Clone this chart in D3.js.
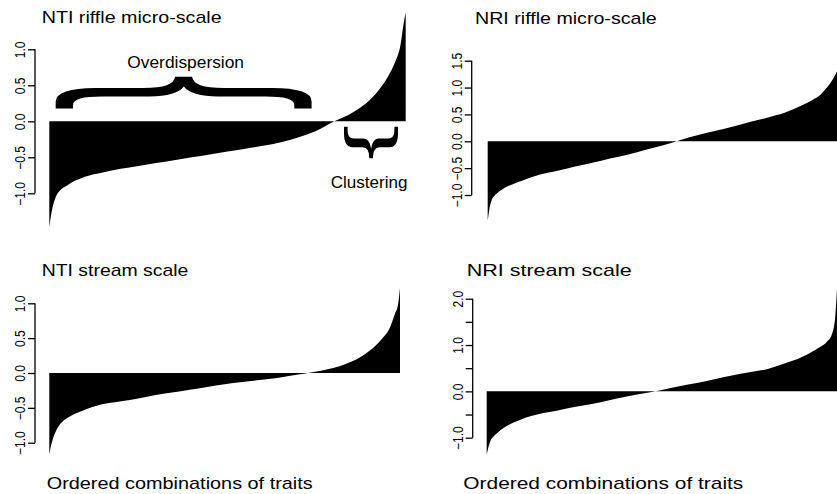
<!DOCTYPE html>
<html>
<head>
<meta charset="utf-8">
<script src="https://cdn.jsdelivr.net/npm/d3@7"></script>
<style>
  body { margin: 0; background: #fff; }
  svg text { font-family: "Liberation Sans", Arial, Helvetica, sans-serif; fill: #000; }
</style>
</head>
<body>
<div id="chart"></div>
<script>
// rank position (percent of ordered combinations) shared by all panels
const ranks = [0, 0.5, 1, 2, 3, 5, 7.5, 10, 15, 20, 25, 30, 35, 40, 45, 50,
               55, 60, 65, 70, 75, 80, 85, 90, 93, 95, 97, 98.5, 99.5, 100];

// values, one per rank
const ntiRiffle = [-1.47, -1.30, -1.18, -1.03, -0.96, -0.89, -0.82, -0.77, -0.71, -0.66,
                   -0.62, -0.58, -0.54, -0.50, -0.46, -0.42, -0.38, -0.34, -0.29, -0.22,
                   -0.13, 0.00, 0.12, 0.30, 0.47, 0.62, 0.82, 1.05, 1.38, 1.51];
const nriRiffle = [-1.48, -1.25, -1.12, -1.01, -0.95, -0.86, -0.79, -0.73, -0.62, -0.55,
                   -0.47, -0.40, -0.32, -0.25, -0.16, -0.08, 0.02, 0.11, 0.19, 0.27,
                   0.36, 0.44, 0.53, 0.67, 0.77, 0.85, 0.99, 1.12, 1.24, 1.30];
const ntiStream = [-1.17, -1.04, -0.95, -0.82, -0.74, -0.65, -0.58, -0.53, -0.45, -0.41,
                   -0.37, -0.32, -0.28, -0.24, -0.20, -0.16, -0.13, -0.10, -0.07, -0.03,
                   0.01, 0.06, 0.14, 0.27, 0.39, 0.50, 0.64, 0.84, 1.00, 1.22];
const nriStream = [-1.37, -1.20, -1.08, -0.97, -0.90, -0.78, -0.68, -0.60, -0.49, -0.42,
                   -0.34, -0.27, -0.19, -0.11, -0.04, 0.03, 0.11, 0.18, 0.26, 0.34,
                   0.41, 0.48, 0.60, 0.74, 0.86, 0.95, 1.06, 1.22, 1.60, 2.23];

const ntiRiffleTicks = [-1, -0.5, 0, 0.5, 1];
const nriRiffleTicks = [-1, -0.5, 0, 0.5, 1, 1.5];
const ntiStreamTicks = [-1, -0.5, 0, 0.5, 1];
const nriStreamTicks = [-1, -0.5, 0, 0.5, 1, 1.5, 2];
const nriStreamLabelled = [-1, 0, 1, 2];

const titles = ["NTI riffle micro-scale", "NRI riffle micro-scale", "NTI stream scale", "NRI stream scale"];
const xLabel = "Ordered combinations of traits";

const width = 837, height = 494;
const fontFamily = '"Liberation Sans", Arial, Helvetica, sans-serif';

const svg = d3.select("#chart").append("svg")
    .attr("width", width)
    .attr("height", height);

const panels = [
  { values: ntiRiffle, ticks: ntiRiffleTicks, labelled: ntiRiffleTicks,
    xr: [49.3, 405.7], yd: [-1, 1], yr: [193.3, 49.3], axisX: 35,
    title: { x: 41.7, y: 23, len: 180 } },
  { values: nriRiffle, ticks: nriRiffleTicks, labelled: nriRiffleTicks,
    xr: [487.7, 837], yd: [-1, 1.5], yr: [195, 60.7], axisX: 471.7,
    title: { x: 475, y: 24, len: 181.7 } },
  { values: ntiStream, ticks: ntiStreamTicks, labelled: ntiStreamTicks,
    xr: [49.3, 400], yd: [-1, 1], yr: [442.7, 303.3], axisX: 35,
    title: { x: 41.7, y: 276, len: 146.7 }, xlab: { x: 46.7, y: 489, len: 266 } },
  { values: nriStream, ticks: nriStreamTicks, labelled: nriStreamLabelled,
    xr: [486.7, 837], yd: [-1, 2], yr: [437.7, 298.7], axisX: 472.7,
    title: { x: 466.7, y: 276, len: 165 }, xlab: { x: 463.3, y: 489, len: 280 } }
];

const fmt = d3.format(".1f");

panels.forEach((p, i) => {
  const x = d3.scaleLinear().domain([0, 100]).range(p.xr);
  const y = d3.scaleLinear().domain(p.yd).range(p.yr);
  const g = svg.append("g");

  const area = d3.area()
      .x((d, j) => x(ranks[j]))
      .y0(y(0))
      .y1(d => y(d))
      .curve(d3.curveMonotoneX);

  g.append("path")
      .datum(p.values)
      .attr("d", area)
      .attr("fill", "#000");

  // R style axis: line only between first and last tick, labels parallel to axis
  const axis = d3.axisLeft(y)
      .tickValues(p.ticks)
      .tickSize(7)
      .tickSizeOuter(0)
      .tickFormat(d => p.labelled.includes(d) ? fmt(d) : "");

  const ag = g.append("g")
      .attr("transform", `translate(${p.axisX},0)`)
      .call(axis);
  ag.select(".domain").remove();
  ag.append("line")
      .attr("y1", y(d3.min(p.ticks)))
      .attr("y2", y(d3.max(p.ticks)))
      .attr("stroke", "#000")
      .attr("stroke-width", 1.3);
  ag.selectAll(".tick line").attr("stroke", "#000").attr("stroke-width", 1.3);
  ag.selectAll(".tick text")
      .attr("x", null)
      .attr("dy", null)
      .attr("text-anchor", "middle")
      .attr("transform", "translate(-10,0) scale(1.2,1) rotate(-90)")
      .style("font-size", "12px")
      .style("font-family", fontFamily);

  g.append("text")
      .attr("x", p.title.x)
      .attr("y", p.title.y)
      .attr("textLength", p.title.len)
      .attr("lengthAdjust", "spacingAndGlyphs")
      .style("font-size", "17px")
      .text(titles[i]);

  if (p.xlab) {
    g.append("text")
        .attr("x", p.xlab.x)
        .attr("y", p.xlab.y)
        .attr("textLength", p.xlab.len)
        .attr("lengthAdjust", "spacingAndGlyphs")
        .style("font-size", "17px")
        .text(xLabel);
  }
});

// measure the ink box of a glyph so a stretched brace can be fitted to a box
function glyphInk(ch) {
  const size = 200;
  const c = document.createElement("canvas");
  c.width = 400; c.height = 400;
  const ctx = c.getContext("2d");
  ctx.font = `${size}px ${fontFamily}`;
  ctx.fillStyle = "#000";
  ctx.textBaseline = "alphabetic";
  ctx.fillText(ch, 100, 300);
  const data = ctx.getImageData(0, 0, 400, 400).data;
  let x0 = Infinity, x1 = -Infinity, y0 = Infinity, y1 = -Infinity;
  for (let yy = 0; yy < 400; yy++) {
    for (let xx = 0; xx < 400; xx++) {
      if (data[(yy * 400 + xx) * 4 + 3] > 127) {
        if (xx < x0) x0 = xx;
        if (xx > x1) x1 = xx;
        if (yy < y0) y0 = yy;
        if (yy > y1) y1 = yy;
      }
    }
  }
  return { size, x0: x0 - 100, x1: x1 + 1 - 100, y0: y0 - 300, y1: y1 + 1 - 300 };
}

const ink = glyphInk("{");

function brace(box, up) {
  const sx = (box.r - box.l) / (ink.y1 - ink.y0);
  const sy = (box.b - box.t) / (ink.x1 - ink.x0);
  const tx = up ? box.l + ink.y1 * sx : box.l - ink.y0 * sx;
  const ty = up ? box.t - ink.x0 * sy : box.t + ink.x1 * sy;
  svg.append("text")
      .attr("transform", `translate(${tx},${ty}) scale(${sx},${sy}) rotate(${up ? 90 : -90})`)
      .style("font-size", ink.size + "px")
      .text("{");
}

brace({ l: 55, r: 311.7, t: 76.7, b: 108.3 }, true);
brace({ l: 345, r: 398.3, t: 126.7, b: 158.3 }, false);

svg.append("text")
    .attr("x", 127.3)
    .attr("y", 68)
    .attr("textLength", 116.7)
    .attr("lengthAdjust", "spacingAndGlyphs")
    .style("font-size", "16px")
    .text("Overdispersion");

svg.append("text")
    .attr("x", 330.7)
    .attr("y", 187.7)
    .attr("textLength", 76.7)
    .attr("lengthAdjust", "spacingAndGlyphs")
    .style("font-size", "17px")
    .text("Clustering");
</script>
</body>
</html>
